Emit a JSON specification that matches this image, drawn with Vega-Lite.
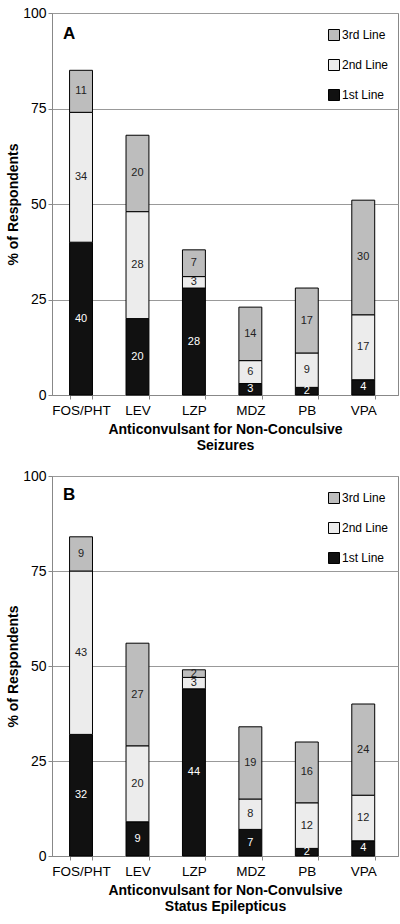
{
  "$schema": "https://vega.github.io/schema/vega-lite/v6.json",
  "padding": {"left": 6, "top": 5, "right": 0, "bottom": 0},
  "background": "white",
  "config": {
    "font": "Liberation Sans",
    "view": {"stroke": "#888888", "strokeWidth": 1},
    "concat": {"spacing": 15},
    "title": {"color": "black"}
  },
  "datasets": {
    "d": [
      {"panel": "A", "drug": "FOS/PHT", "line": "1st Line", "rank": 1, "v": 40},
      {"panel": "A", "drug": "FOS/PHT", "line": "2nd Line", "rank": 2, "v": 34},
      {"panel": "A", "drug": "FOS/PHT", "line": "3rd Line", "rank": 3, "v": 11},
      {"panel": "A", "drug": "LEV", "line": "1st Line", "rank": 1, "v": 20},
      {"panel": "A", "drug": "LEV", "line": "2nd Line", "rank": 2, "v": 28},
      {"panel": "A", "drug": "LEV", "line": "3rd Line", "rank": 3, "v": 20},
      {"panel": "A", "drug": "LZP", "line": "1st Line", "rank": 1, "v": 28},
      {"panel": "A", "drug": "LZP", "line": "2nd Line", "rank": 2, "v": 3},
      {"panel": "A", "drug": "LZP", "line": "3rd Line", "rank": 3, "v": 7},
      {"panel": "A", "drug": "MDZ", "line": "1st Line", "rank": 1, "v": 3},
      {"panel": "A", "drug": "MDZ", "line": "2nd Line", "rank": 2, "v": 6},
      {"panel": "A", "drug": "MDZ", "line": "3rd Line", "rank": 3, "v": 14},
      {"panel": "A", "drug": "PB", "line": "1st Line", "rank": 1, "v": 2},
      {"panel": "A", "drug": "PB", "line": "2nd Line", "rank": 2, "v": 9},
      {"panel": "A", "drug": "PB", "line": "3rd Line", "rank": 3, "v": 17},
      {"panel": "A", "drug": "VPA", "line": "1st Line", "rank": 1, "v": 4},
      {"panel": "A", "drug": "VPA", "line": "2nd Line", "rank": 2, "v": 17},
      {"panel": "A", "drug": "VPA", "line": "3rd Line", "rank": 3, "v": 30},
      {"panel": "B", "drug": "FOS/PHT", "line": "1st Line", "rank": 1, "v": 32},
      {"panel": "B", "drug": "FOS/PHT", "line": "2nd Line", "rank": 2, "v": 43},
      {"panel": "B", "drug": "FOS/PHT", "line": "3rd Line", "rank": 3, "v": 9},
      {"panel": "B", "drug": "LEV", "line": "1st Line", "rank": 1, "v": 9},
      {"panel": "B", "drug": "LEV", "line": "2nd Line", "rank": 2, "v": 20},
      {"panel": "B", "drug": "LEV", "line": "3rd Line", "rank": 3, "v": 27},
      {"panel": "B", "drug": "LZP", "line": "1st Line", "rank": 1, "v": 44},
      {"panel": "B", "drug": "LZP", "line": "2nd Line", "rank": 2, "v": 3},
      {"panel": "B", "drug": "LZP", "line": "3rd Line", "rank": 3, "v": 2},
      {"panel": "B", "drug": "MDZ", "line": "1st Line", "rank": 1, "v": 7},
      {"panel": "B", "drug": "MDZ", "line": "2nd Line", "rank": 2, "v": 8},
      {"panel": "B", "drug": "MDZ", "line": "3rd Line", "rank": 3, "v": 19},
      {"panel": "B", "drug": "PB", "line": "1st Line", "rank": 1, "v": 2},
      {"panel": "B", "drug": "PB", "line": "2nd Line", "rank": 2, "v": 12},
      {"panel": "B", "drug": "PB", "line": "3rd Line", "rank": 3, "v": 16},
      {"panel": "B", "drug": "VPA", "line": "1st Line", "rank": 1, "v": 4},
      {"panel": "B", "drug": "VPA", "line": "2nd Line", "rank": 2, "v": 12},
      {"panel": "B", "drug": "VPA", "line": "3rd Line", "rank": 3, "v": 24}
    ]
  },
  "vconcat": [
    {
      "width": 346,
      "height": 382,
      "title": {"text": "A", "anchor": "start", "frame": "group", "dx": 11, "dy": 41, "fontSize": 17, "fontWeight": "bold", "color": "black"},
      "data": {"name": "d"},
      "transform": [{"filter": "datum.panel === 'A'"}],
      "encoding": {
        "x": {
          "field": "drug", "type": "nominal",
          "sort": ["FOS/PHT", "LEV", "LZP", "MDZ", "PB", "VPA"],
          "scale": {"paddingInner": 0.594, "paddingOuter": 0.362, "align": 0.43},
          "axis": {"title": ["Anticonvulsant for Non-Conculsive", "Seizures"], "labelAngle": 0, "labelFontSize": 13.5, "labelColor": "black", "tickBand": "extent", "tickSize": 4, "tickColor": "#888888", "domainColor": "#888888", "titleFontSize": 14, "titleFontWeight": "bold", "titleColor": "black", "labelPadding": 4, "titlePadding": 6, "grid": false}
        },
        "y": {
          "field": "v", "type": "quantitative", "stack": "zero",
          "scale": {"domain": [0, 100], "nice": false},
          "axis": {"title": "% of Respondents", "values": [0, 25, 50, 75, 100], "grid": true, "gridColor": "#999999", "tickSize": 4, "tickColor": "#888888", "domainColor": "#888888", "labelFontSize": 14, "labelColor": "black", "titleFontSize": 14, "titleFontWeight": "bold", "titleColor": "black", "titlePadding": 2}
        },
        "order": {"field": "rank", "type": "quantitative"}
      },
      "layer": [
        {
          "mark": {"type": "bar", "stroke": "black", "strokeWidth": 1},
          "encoding": {
            "color": {
              "field": "line", "type": "nominal",
              "scale": {"domain": ["3rd Line", "2nd Line", "1st Line"], "range": ["#bdbdbd", "#ececec", "#111111"]},
              "legend": {"title": null, "orient": "none", "legendX": 276, "legendY": 16, "symbolType": "square", "symbolSize": 121, "symbolStrokeColor": "black", "symbolStrokeWidth": 1, "symbolOpacity": 1, "labelFontSize": 12, "labelColor": "black", "rowPadding": 14, "labelOffset": 2}
            }
          }
        },
        {
          "mark": {"type": "text", "fontSize": 11, "baseline": "middle"},
          "encoding": {
            "y": {"field": "v", "type": "quantitative", "stack": "zero", "bandPosition": 0.5},
            "text": {"field": "v", "type": "quantitative"},
            "color": {"condition": {"test": "datum.rank === 1", "value": "white"}, "value": "#222222"}
          }
        }
      ]
    },
    {
      "width": 346,
      "height": 380,
      "title": {"text": "B", "anchor": "start", "frame": "group", "dx": 11, "dy": 39, "fontSize": 17, "fontWeight": "bold", "color": "black"},
      "data": {"name": "d"},
      "transform": [{"filter": "datum.panel === 'B'"}],
      "encoding": {
        "x": {
          "field": "drug", "type": "nominal",
          "sort": ["FOS/PHT", "LEV", "LZP", "MDZ", "PB", "VPA"],
          "scale": {"paddingInner": 0.594, "paddingOuter": 0.362, "align": 0.43},
          "axis": {"title": ["Anticonvulsant for Non-Convulsive", "Status Epilepticus"], "labelAngle": 0, "labelFontSize": 13.5, "labelColor": "black", "tickBand": "extent", "tickSize": 4, "tickColor": "#888888", "domainColor": "#888888", "titleFontSize": 14, "titleFontWeight": "bold", "titleColor": "black", "labelPadding": 4, "titlePadding": 6, "grid": false}
        },
        "y": {
          "field": "v", "type": "quantitative", "stack": "zero",
          "scale": {"domain": [0, 100], "nice": false},
          "axis": {"title": "% of Respondents", "values": [0, 25, 50, 75, 100], "grid": true, "gridColor": "#999999", "tickSize": 4, "tickColor": "#888888", "domainColor": "#888888", "labelFontSize": 14, "labelColor": "black", "titleFontSize": 14, "titleFontWeight": "bold", "titleColor": "black", "titlePadding": 2}
        },
        "order": {"field": "rank", "type": "quantitative"}
      },
      "layer": [
        {
          "mark": {"type": "bar", "stroke": "black", "strokeWidth": 1},
          "encoding": {
            "color": {
              "field": "line", "type": "nominal",
              "scale": {"domain": ["3rd Line", "2nd Line", "1st Line"], "range": ["#bdbdbd", "#ececec", "#111111"]},
              "legend": {"title": null, "orient": "none", "legendX": 276, "legendY": 16, "symbolType": "square", "symbolSize": 121, "symbolStrokeColor": "black", "symbolStrokeWidth": 1, "symbolOpacity": 1, "labelFontSize": 12, "labelColor": "black", "rowPadding": 14, "labelOffset": 2}
            }
          }
        },
        {
          "mark": {"type": "text", "fontSize": 11, "baseline": "middle"},
          "encoding": {
            "y": {"field": "v", "type": "quantitative", "stack": "zero", "bandPosition": 0.5},
            "text": {"field": "v", "type": "quantitative"},
            "color": {"condition": {"test": "datum.rank === 1", "value": "white"}, "value": "#222222"}
          }
        }
      ]
    }
  ],
  "resolve": {"legend": {"color": "independent"}}
}
